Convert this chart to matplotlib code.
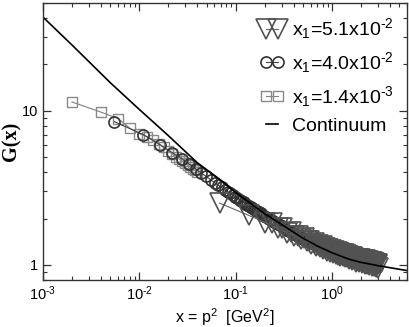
import matplotlib
matplotlib.use("Agg")
import matplotlib.pyplot as plt
from matplotlib.ticker import LogLocator, NullFormatter

plt.rcParams["font.family"] = ["Liberation Sans", "DejaVu Sans"]
plt.rcParams["mathtext.fontset"] = "custom"
plt.rcParams["mathtext.rm"] = "Liberation Sans"
plt.rcParams["mathtext.it"] = "Liberation Sans:italic"
plt.rcParams["mathtext.bf"] = "Liberation Sans:bold"

# x1 = 5.1e-2 lattice (triangles), lower row that sticks out below the band
tri_x = [0.068, 0.136, 0.204, 0.272, 0.34, 0.408, 0.476, 0.544, 0.612, 0.68,
         0.748, 0.816, 0.884, 0.952, 1.02, 1.088, 1.156, 1.224, 1.292, 1.36,
         1.428, 1.496, 1.564, 1.632, 1.70, 1.768, 1.836, 1.904, 1.972, 2.04,
         2.108, 2.176, 2.244, 2.312, 2.38, 2.448, 2.516, 2.584, 2.652, 2.72,
         2.788, 2.856, 2.924, 2.992]
tri_y = [2.52, 2.10, 1.88, 1.73, 1.62, 1.54, 1.47, 1.42, 1.37, 1.33,
         1.30, 1.27, 1.24, 1.22, 1.20, 1.18, 1.16, 1.15, 1.14, 1.13,
         1.13, 1.09, 1.11, 1.07, 1.09, 1.05, 1.08, 1.04, 1.07, 1.03,
         1.06, 1.02, 1.05, 1.01, 1.04, 1.00, 1.03, 0.99, 1.02, 0.98,
         1.01, 0.97, 1.00, 0.96]
# x1 = 5.1e-2, the other momenta filling the band
tri2_x = [0.238, 0.306, 0.374, 0.442, 0.51, 0.578, 0.646, 0.714, 0.782, 0.85,
          0.918, 0.986, 1.054, 1.122, 1.19, 1.258, 1.326, 1.394, 1.462, 1.53,
          1.598, 1.666, 1.734, 1.802, 1.87, 1.938, 2.006, 2.074, 2.142, 2.21,
          2.278, 2.346, 2.414, 2.482, 2.55, 2.618, 2.686, 2.754, 2.822, 2.89,
          2.958]
tri2_y = [1.86, 1.73, 1.63, 1.55, 1.49, 1.44, 1.39, 1.35, 1.32, 1.29,
          1.27, 1.25, 1.23, 1.21, 1.19, 1.18, 1.17, 1.16, 1.14, 1.13,
          1.12, 1.11, 1.10, 1.10, 1.09, 1.09, 1.08, 1.08, 1.07, 1.07,
          1.06, 1.06, 1.05, 1.05, 1.04, 1.04, 1.03, 1.03, 1.02, 1.02,
          1.01]

# x1 = 4.0e-2 lattice (circles)
circ_x = [0.0055, 0.011, 0.0165, 0.022, 0.0275, 0.033, 0.0385, 0.044, 0.0495, 0.055,
          0.0605, 0.066, 0.0715, 0.077, 0.0825, 0.088, 0.0935, 0.099, 0.1045, 0.11,
          0.115, 0.121, 0.126, 0.132, 0.137, 0.143, 0.148, 0.154, 0.160, 0.165,
          0.173, 0.182, 0.190, 0.198, 0.209, 0.22, 0.231, 0.242, 0.253, 0.264,
          0.275, 0.286, 0.30, 0.314, 0.327, 0.341, 0.357, 0.374, 0.39, 0.407,
          0.424, 0.44, 0.46, 0.479, 0.50, 0.523, 0.547, 0.572, 0.597, 0.622,
          0.65, 0.677, 0.707, 0.737, 0.77, 0.803, 0.838, 0.875, 0.913, 0.952,
          0.995, 1.04, 1.085, 1.13, 1.18, 1.23, 1.285, 1.34, 1.40, 1.46,
          1.52, 1.59, 1.66, 1.73, 1.80, 1.88, 1.96, 2.05, 2.14, 2.23,
          2.33, 2.43, 2.54, 2.65, 2.77, 2.9]
circ_y = [8.5, 7.0, 6.0, 5.35, 4.9, 4.5, 4.2, 3.95, 3.75, 3.57,
          3.42, 3.29, 3.18, 3.08, 2.99, 2.91, 2.84, 2.77, 2.71, 2.65,
          2.60, 2.55, 2.50, 2.46, 2.42, 2.38, 2.34, 2.31, 2.28, 2.25,
          2.20, 2.16, 2.12, 2.09, 2.04, 2.00, 1.96, 1.93, 1.90, 1.87,
          1.84, 1.81, 1.78, 1.75, 1.72, 1.69, 1.665, 1.64, 1.615, 1.59,
          1.57, 1.55, 1.525, 1.50, 1.48, 1.46, 1.44, 1.42, 1.40, 1.38,
          1.36, 1.34, 1.325, 1.31, 1.29, 1.27, 1.255, 1.24, 1.225, 1.21,
          1.195, 1.18, 1.165, 1.15, 1.14, 1.13, 1.12, 1.11, 1.10, 1.09,
          1.08, 1.07, 1.06, 1.05, 1.04, 1.03, 1.025, 1.02, 1.01, 1.00,
          0.995, 0.99, 0.985, 0.98, 0.975, 0.97]

# x1 = 1.4e-3 lattice (squares)
sq_x = [0.002, 0.004, 0.006, 0.008, 0.010, 0.012, 0.014, 0.016, 0.018, 0.020,
        0.022, 0.024, 0.026, 0.028, 0.030, 0.032, 0.034, 0.036, 0.038, 0.040]
sq_y = [11.4, 9.8, 8.9, 7.7, 7.1, 6.8, 6.5, 6.1, 5.8, 5.5,
        5.25, 5.05, 4.87, 4.7, 4.55, 4.42, 4.3, 4.2, 4.1, 4.0]

# continuum curve
cont_x = [0.001, 0.002, 0.005, 0.01, 0.02, 0.04, 0.07, 0.1, 0.15, 0.2,
          0.3, 0.5, 0.7, 1.0, 1.5, 2.0, 3.0, 4.0, 6.0]
cont_y = [40.5, 26.7, 15.2, 10.2, 6.9, 4.6, 3.55, 2.95, 2.45, 2.15,
          1.83, 1.49, 1.33, 1.2, 1.09, 1.04, 0.99, 0.96, 0.92]

labels = ["x$_1$=5.1x10$^{\u20102}$", "x$_1$=4.0x10$^{\u20102}$",
          "x$_1$=1.4x10$^{\u20103}$", "Continuum"]

fig = plt.figure(figsize=(4.09, 3.27), dpi=100)
ax = fig.add_axes([0.105, 0.144, 0.89, 0.847])

tri_style = dict(marker="v", ms=14, mfc="none", mec="#525252", mew=1.2)

h_sq, = ax.plot(sq_x, sq_y, "-", color="#808080", lw=0.8, marker="s", ms=6.5,
                mfc="none", mec="#8a8a8a", mew=1.0)
h_ci, = ax.plot(circ_x, circ_y, "-", color="#444444", lw=0.8, marker="o", ms=8,
                mfc="none", mec="#333333", mew=1.2)
ax.plot(tri2_x, tri2_y, "-", color="#666666", lw=0.8, **tri_style)
h_tr, = ax.plot(tri_x, tri_y, "-", color="#666666", lw=0.8, **tri_style)
h_co, = ax.plot(cont_x, cont_y, "-", color="black", lw=1.2)

ax.set_xscale("log")
ax.set_yscale("log")
ax.set_xlim(1e-3, 6.0)
ax.set_ylim(0.8, 50)

ax.set_xticks([1e-3, 1e-2, 1e-1, 1.0],
              ["10$^{\u20103}$", "10$^{\u20102}$", "10$^{\u20101}$", "10$^{0}$"])
ax.set_yticks([1, 10], ["1", "10"])
ax.xaxis.set_minor_locator(LogLocator(base=10, subs=range(2, 10), numticks=20))
ax.yaxis.set_minor_locator(LogLocator(base=10, subs=range(2, 10), numticks=20))
ax.xaxis.set_minor_formatter(NullFormatter())
ax.yaxis.set_minor_formatter(NullFormatter())
ax.tick_params(which="both", direction="in", top=True, right=True,
               labelsize=10.5, color="#333333")
ax.tick_params(which="major", length=5.8, width=0.9)
ax.tick_params(which="minor", length=3.0, width=0.8)
for s in ax.spines.values():
    s.set_linewidth(1.0)
    s.set_color("#333333")

ax.set_xlabel(r"x = p$^2$  [GeV$^2$]", fontsize=11.5, labelpad=2)
ax.set_ylabel("G(x)", fontsize=14.5, fontweight="bold",
              family=["Liberation Serif", "DejaVu Serif"])
ax.yaxis.set_label_coords(-0.058, 0.5)

ax.legend([h_tr, h_ci, h_sq, h_co], labels, loc="upper right",
          bbox_to_anchor=(1.0, 1.0), frameon=False, numpoints=2,
          handlelength=1.2, handletextpad=0.4, labelspacing=0.45,
          fontsize=14, borderaxespad=0.3)

fig.savefig("out.png", dpi=100)
